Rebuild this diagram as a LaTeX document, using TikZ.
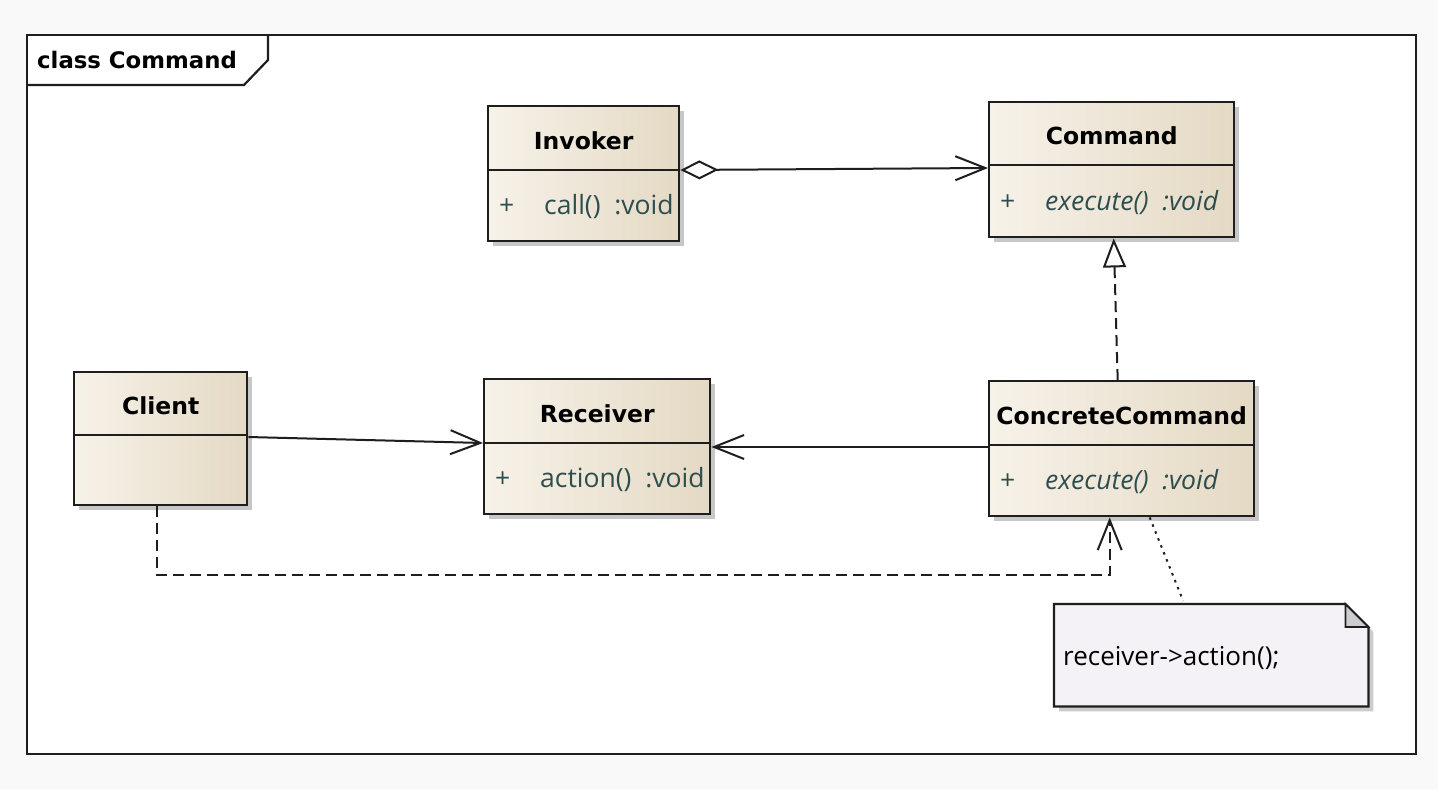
\documentclass[tikz,border=0pt]{standalone}
\usepackage{fontspec}
\setmainfont{Open Sans}
\newfontfamily\titlefont{DejaVu Sans}
\usetikzlibrary{arrows.meta,shadows,calc}
\definecolor{bgout}{RGB}{249,249,249}
\definecolor{lineC}{RGB}{30,30,30}
\definecolor{beigeL}{RGB}{247,242,233}
\definecolor{beigeR}{RGB}{228,217,196}
\definecolor{memberC}{RGB}{45,78,78}
\definecolor{noteFill}{RGB}{244,242,246}
\definecolor{earFill}{RGB}{205,205,208}
\tikzset{
  classbox/.style={draw=lineC, line width=2.4pt, inner sep=0pt, anchor=north west,
    left color=beigeL, right color=beigeR,
    drop shadow={shadow xshift=5pt, shadow yshift=-5pt, fill=black, opacity=0.22}},
  divline/.style={draw=lineC, line width=2.2pt},
  titletext/.style={font=\titlefont\bfseries\fontsize{23.5}{26}\selectfont, text=black, inner sep=0pt},
  membertext/.style={font=\fontsize{26.5}{28}\selectfont, text=memberC, inner sep=0pt, anchor=west},
  conn/.style={draw=lineC, line width=2pt},
  openhead/.style={-{Straight Barb[length=30pt,width=24pt,line width=2pt]}},
  dashline/.style={dash pattern=on 11pt off 6pt}
}
\newcommand\umlclass[8]{%
  \node[classbox, minimum width=#4, minimum height=#5] (#1) at (#2,#3) {};
  \draw[divline] ($(#1.north west)+(0,#6)$) -- ($(#1.north east)+(0,#6)$);
  \node[titletext] (#1-t) at ($(#1.north)+(0,#6/2+3)$) {#7};
  \node[membertext] (#1-m) at ($(#1.north west)+(12,#6/2+#5/2+2)$) {#8};
}
\begin{document}
\begin{tikzpicture}[x=1pt,y=-1pt]
\useasboundingbox (0,0) rectangle (1438,790);
\fill[bgout] (0,0) rectangle (1438,790);
\node[draw=lineC, line width=2.4pt, fill=white, anchor=north west, inner sep=0pt,
      minimum width=1389, minimum height=719] (frame) at (26,34) {};
\draw[lineC, line width=2.2pt] ($(frame.north west)+(0,51)$) -- ($(frame.north west)+(218,51)$)
   -- ($(frame.north west)+(242,26)$) -- ($(frame.north west)+(242,0)$);
\node[font=\titlefont\bfseries\fontsize{22.8}{26}\selectfont, anchor=west, inner sep=0pt] (tab) at (37,60) {class Command};

\umlclass{inv}{487}{105}{191}{135}{65}{Invoker}{\makebox[45pt][l]{+}call()\ \ :void}
\umlclass{cmd}{988}{101}{245}{135}{64}{Command}{\makebox[45pt][l]{+}\itshape execute()\ \ :void}
\umlclass{client}{73}{371}{173}{133}{64}{Client}{}
\umlclass{recv}{483}{378}{226}{135}{65}{Receiver}{\makebox[45pt][l]{+}action()\ \ :void}
\umlclass{cc}{988}{380}{265}{135}{65}{ConcreteCommand}{\makebox[45pt][l]{+}\itshape execute()\ \ :void}

% note
\node[inner sep=0pt, minimum width=314, minimum height=102, anchor=north west] (note) at (1054,604) {};
\fill[black, opacity=0.2] ($(note.north west)+(5,5)$) -- ($(note.north east)+(-18,5)$) -- ($(note.north east)+(5,28)$)
   -- ($(note.south east)+(5,5)$) -- ($(note.south west)+(5,5)$) -- cycle;
\draw[lineC, line width=2.2pt, fill=noteFill] (note.north west) -- ($(note.north east)+(-23,0)$) -- ($(note.north east)+(0,23)$)
   -- (note.south east) -- (note.south west) -- cycle;
\draw[lineC, line width=1.8pt, fill=earFill] ($(note.north east)+(-23,0)$) -- ($(note.north east)+(-23,23)$) -- ($(note.north east)+(0,23)$) -- cycle;
\node[font=\fontsize{26}{28}\selectfont, anchor=west, inner sep=0pt] (note-t) at (1063,658) {receiver->action();};

% connectors
\draw[conn, {Diamond[open, fill=white, length=38pt, width=19pt, line width=2pt]}-{Straight Barb[length=30pt,width=24pt,line width=2pt]}]
  ($(inv.north east)+(0,65)$) -- ($(cmd.north west)+(0,67)$);
\draw[conn, dashline, -{Triangle[open, fill=white, length=29pt, width=23pt, line width=2pt]}]
  ($(cc.north)+(-4,0)$) -- ($(cmd.south)+(2,0)$);
\draw[conn, openhead] ($(client.north east)+(0,66)$) -- ($(recv.north west)+(0,65)$);
\draw[conn, openhead] ($(cc.north west)+(0,67)$) -- ($(recv.north east)+(0,69)$);
\draw[conn, dashline, openhead] ($(client.south)+(-4,0)$) -- ++(0,69) -| ($(cc.south)+(-12,0)$);
\draw[conn, dash pattern=on 2.5pt off 5pt] ($(cc.south)+(28,0)$) -- ($(note.north)+(-28,-3)$);
\end{tikzpicture}
\end{document}
